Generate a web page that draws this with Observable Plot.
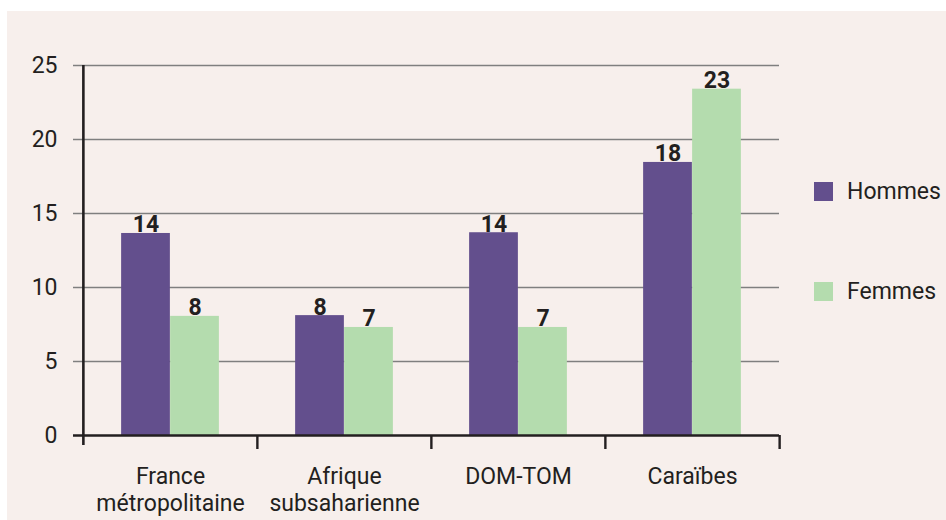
<!DOCTYPE html>
<html>
<head>
<meta charset="utf-8">
<script src="https://cdn.jsdelivr.net/npm/d3@7"></script>
<script src="https://cdn.jsdelivr.net/npm/@observablehq/plot@0.6"></script>
<style>
  html, body { margin: 0; padding: 0; background: #ffffff; }
  #panel { position: absolute; left: 7px; top: 11px; width: 939px; height: 509px; background: #f7efec; overflow: hidden; }
  #chart { position: absolute; left: 0; top: 0; }
  .legend { position: absolute; left: 807px; font-family: Roboto, sans-serif; font-size: 23px; color: #231f20; display: flex; align-items: center; }
  .legend .sw { width: 19px; height: 19px; margin-right: 14px; }
</style>
</head>
<body>
<div id="panel">
  <div id="chart"></div>
  <div id="legend"></div>
</div>
<script>
const categories = ["France métropolitaine", "Afrique subsaharienne", "DOM-TOM", "Caraïbes"];
const categoryLabels = ["France\nmétropolitaine", "Afrique\nsubsaharienne", "DOM-TOM", "Caraïbes"];
const series = ["Hommes", "Femmes"];
const hommes = [13.65, 8.1, 13.7, 18.45];
const femmes = [8.05, 7.3, 7.3, 23.4];
const yTicks = [0, 5, 10, 15, 20, 25];
const colors = ["#634f8d", "#b4dcae"];

const W = 939, H = 509, ML = 75, MR = 167, MT = 54, MB = 85;
const bw = (W - ML - MR) / categories.length;
const barW = 49;
const outer = (bw - 2 * barW) / 2;
const ink = "#231f20";

const rowsH = categories.map((c, i) => ({category: c, series: "Hommes", value: hommes[i]}));
const rowsF = categories.map((c, i) => ({category: c, series: "Femmes", value: femmes[i]}));

const plot = Plot.plot({
  width: W, height: H,
  marginLeft: ML, marginRight: MR, marginTop: MT, marginBottom: MB,
  style: {background: "transparent", fontFamily: "Roboto, sans-serif", fontSize: "23px", color: ink, overflow: "visible"},
  x: {domain: categories, padding: 0},
  y: {domain: [0, 25]},
  color: {domain: series, range: colors},
  marks: [
    Plot.ruleY(yTicks.filter(d => d > 0), {stroke: "#7f7f7f", strokeWidth: 1.6, insetLeft: -9}),
    Plot.barY(rowsH, {x: "category", y: "value", fill: "series", insetLeft: outer, insetRight: outer + barW}),
    Plot.barY(rowsF, {x: "category", y: "value", fill: "series", insetLeft: outer + barW, insetRight: outer}),
    Plot.text(rowsH, {x: "category", y: "value", text: d => String(Math.round(d.value)), dx: -barW / 2, dy: -1, lineAnchor: "bottom", fontWeight: "bold", fill: ink}),
    Plot.text(rowsF, {x: "category", y: "value", text: d => String(Math.round(d.value)), dx: barW / 2, dy: -1, lineAnchor: "bottom", fontWeight: "bold", fill: ink}),
    Plot.ruleY([0], {stroke: ink, strokeWidth: 2.6, insetLeft: -9}),
    Plot.ruleX([categories[0]], {x: d => d, dx: -bw / 2, y1: () => 25, y2: () => 0, insetBottom: -10, stroke: ink, strokeWidth: 2.6}),
    Plot.ruleX(categories.slice(1), {x: d => d, dx: -bw / 2, y1: () => 0, y2: () => 0, insetBottom: -14, stroke: ink, strokeWidth: 2.4}),
    Plot.ruleX([categories[categories.length - 1]], {x: d => d, dx: bw / 2, y1: () => 0, y2: () => 0, insetBottom: -14, stroke: ink, strokeWidth: 2.4}),
    Plot.axisY({ticks: yTicks, tickSize: 0, tickPadding: 25, label: null, tickFormat: d => String(d), fill: ink}),
    Plot.axisX({tickSize: 0, tickPadding: 29, label: null, lineHeight: 1.17, tickFormat: d => categoryLabels[categories.indexOf(d)], fill: ink})
  ]
});
document.getElementById("chart").appendChild(plot);

const legend = document.getElementById("legend");
const legendTops = [167, 267];
series.forEach((s, i) => {
  const item = document.createElement("div");
  item.className = "legend";
  item.style.top = legendTops[i] + "px";
  const sw = document.createElement("div");
  sw.className = "sw";
  sw.style.background = colors[i];
  const label = document.createElement("span");
  label.textContent = s;
  item.appendChild(sw);
  item.appendChild(label);
  legend.appendChild(item);
});
</script>
</body>
</html>
